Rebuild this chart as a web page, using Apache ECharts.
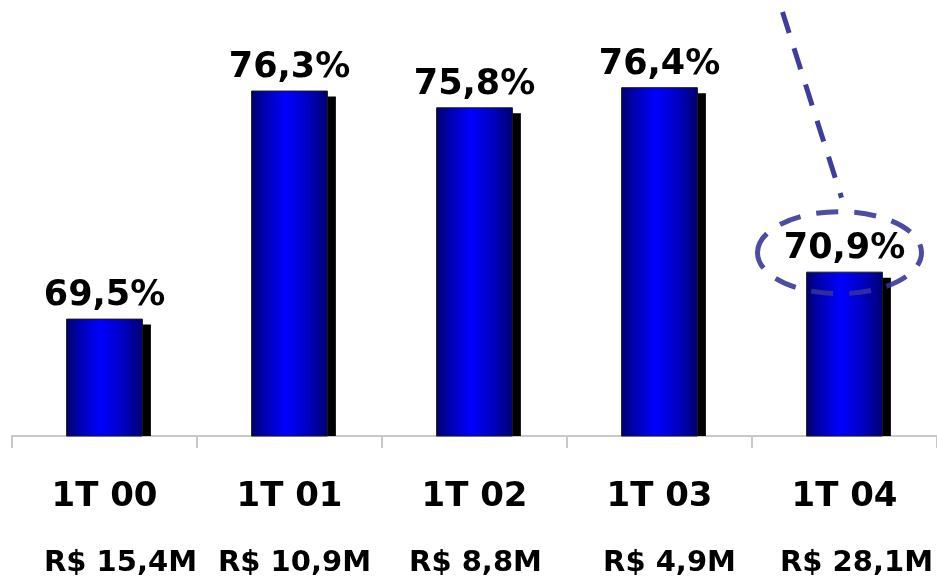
<!DOCTYPE html>
<html>
<head>
<meta charset="utf-8">
<script src="https://cdn.jsdelivr.net/npm/echarts@6/dist/echarts.min.js"></script>
<style>
html,body{margin:0;padding:0;background:#fff;}
#chart{width:937px;height:581px;}
</style>
</head>
<body>
<div id="chart"></div>
<script>
var categories = ['1T 00', '1T 01', '1T 02', '1T 03', '1T 04'];
var subLabels = ['R$ 15,4M', 'R$ 10,9M', 'R$ 8,8M', 'R$ 4,9M', 'R$ 28,1M'];
var values = [69.5, 76.3, 75.8, 76.4, 70.9];

var FONT = 'DejaVu Sans';
var subShift = [16, 5, 1, 10, 12];

var chart = echarts.init(document.getElementById('chart'), null, {renderer: 'canvas'});

var barGradient = new echarts.graphic.LinearGradient(0, 0, 1, 0, [
  {offset: 0, color: '#00006a'},
  {offset: 0.15, color: '#0000a8'},
  {offset: 0.45, color: '#0000ff'},
  {offset: 0.75, color: '#0000c0'},
  {offset: 1, color: '#000070'}
]);

var rich = {a: {fontFamily: FONT, fontWeight: 'bold', fontSize: 34, color: '#000', lineHeight: 66}};
subShift.forEach(function (s, i) {
  rich['b' + i] = {fontFamily: FONT, fontWeight: 'bold', fontSize: 29, color: '#000', lineHeight: 66, padding: [0, 0, 0, 2 * s]};
});

var option = {
  animation: false,
  backgroundColor: '#ffffff',
  grid: {left: 12, right: 0, top: 0, bottom: 145},
  xAxis: {
    type: 'category',
    data: categories,
    boundaryGap: true,
    axisLine: {show: true, lineStyle: {color: '#c8c8c8', width: 2}},
    axisTick: {show: true, length: 12, lineStyle: {color: '#c8c8c8', width: 2}},
    axisLabel: {
      margin: 28,
      interval: 0,
      formatter: function (v, i) { return '{a|' + v + '}\n{b' + i + '|' + subLabels[i] + '}'; },
      rich: rich
    }
  },
  yAxis: {type: 'value', min: 66, max: 79, show: false},
  series: [
    {
      type: 'custom',
      z: 1,
      renderItem: function (params, api) {
        var top = api.coord([api.value(0), api.value(1)]);
        var base = api.coord([api.value(0), 66]);
        var w = api.size([1, 0])[0] * 0.415;
        return {
          type: 'rect',
          shape: {x: top[0] - w / 2 + 8, y: top[1] + 6, width: w, height: base[1] - top[1] - 6},
          style: {fill: '#000'}
        };
      },
      data: values.map(function (v, i) { return [i, v]; })
    },
    {
      type: 'bar',
      z: 2,
      barWidth: '41.5%',
      data: values,
      itemStyle: {color: barGradient, borderColor: '#1a1a1a', borderWidth: 1},
      label: {
        show: true,
        position: 'top',
        distance: 5,
        fontFamily: FONT,
        fontWeight: 'bold',
        fontSize: 35,
        color: '#000',
        formatter: function (p) { return String(p.value).replace('.', ',') + '%'; }
      }
    }
  ]
};
chart.setOption(option);

// annotation around the last bar
var p = chart.convertToPixel({seriesIndex: 1}, [4, values[4]]);
var cx = p[0] - 5, cy = p[1] - 19;
chart.setOption({
  graphic: [
    {
      type: 'ellipse',
      shape: {cx: cx, cy: cy, rx: 82, ry: 41},
      style: {fill: null, stroke: 'rgba(51,51,153,0.88)', lineWidth: 5, lineDash: [22, 16]},
      z: 100
    },
    {
      type: 'line',
      shape: {x1: cx - 57, y1: 12, x2: cx + 2, y2: cy - 55},
      style: {stroke: 'rgba(51,51,153,0.95)', lineWidth: 5, lineDash: [22, 16]},
      z: 100
    }
  ]
});
</script>
</body>
</html>
